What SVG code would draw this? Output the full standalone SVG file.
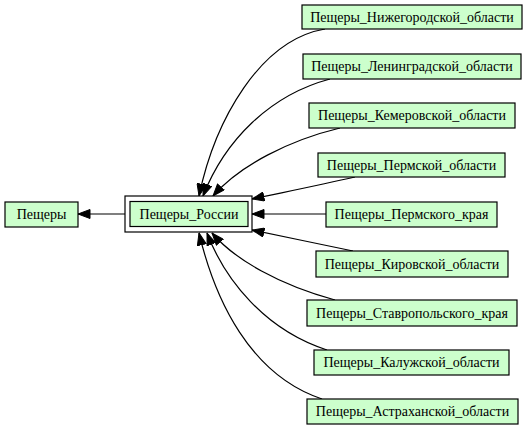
<svg xmlns="http://www.w3.org/2000/svg" width="528" height="429" viewBox="0 0 528 429">
<style>
.box{fill:#ccffcc;stroke:#000;stroke-width:1.2}
.lbl{font-family:"Liberation Serif","Times New Roman",serif;font-size:14px;fill:#000;text-anchor:middle}
.e{fill:none;stroke:#000;stroke-width:1.2;marker-end:url(#ah)}
</style>
<defs>
<marker id="ah" markerWidth="13" markerHeight="10" refX="12.5" refY="5" orient="auto" markerUnits="userSpaceOnUse">
<polygon points="0.5,0.5 12.5,5 0.5,9.5" fill="#000" stroke="#000" stroke-width="1"/>
</marker>
</defs>
<rect width="528" height="429" fill="#fff"/>
<g id="edges">
<path class="e" d="M125,214 L78,214"/>
<path class="e" d="M325,29 C260,40 215,120 199,196"/>
<path class="e" d="M330,79 C270,95 225,140 203,196"/>
<path class="e" d="M340,128 C290,140 240,165 213,196"/>
<path class="e" d="M355,177 C320,185 285,192 252,199"/>
<path class="e" d="M326,214 L252,214"/>
<path class="e" d="M353,251 C320,244 285,237 252,230"/>
<path class="e" d="M335,300 C280,285 235,260 212,233"/>
<path class="e" d="M327,350 C265,330 225,280 207,233"/>
<path class="e" d="M322,399 C250,375 215,300 199,233"/>
</g>
<g id="n_peshchery"><rect class="box" x="5" y="202" width="73" height="25"/><text class="lbl" x="41.5" y="219">Пещеры</text></g>
<g id="n_rossii"><rect x="125" y="196" width="127" height="36" fill="#fff" stroke="#000" stroke-width="1.2"/><rect class="box" x="130" y="201.5" width="118" height="25"/><text class="lbl" x="189" y="219">Пещеры_России</text></g>
<g id="n1"><rect class="box" x="302" y="5" width="220" height="24"/><text class="lbl" x="412" y="22">Пещеры_Нижегородской_области</text></g>
<g id="n2"><rect class="box" x="303" y="54" width="218" height="25"/><text class="lbl" x="412" y="71">Пещеры_Ленинградской_области</text></g>
<g id="n3"><rect class="box" x="309" y="103" width="206" height="25"/><text class="lbl" x="412" y="120">Пещеры_Кемеровской_области</text></g>
<g id="n4"><rect class="box" x="318" y="153" width="187" height="24"/><text class="lbl" x="411.5" y="170">Пещеры_Пермской_области</text></g>
<g id="n5"><rect class="box" x="326" y="202" width="171" height="25"/><text class="lbl" x="411.5" y="219">Пещеры_Пермского_края</text></g>
<g id="n6"><rect class="box" x="316" y="251" width="192" height="26"/><text class="lbl" x="412" y="269">Пещеры_Кировской_области</text></g>
<g id="n7"><rect class="box" x="307" y="300" width="210" height="26"/><text class="lbl" x="412" y="318">Пещеры_Ставропольского_края</text></g>
<g id="n8"><rect class="box" x="314" y="350" width="195" height="25"/><text class="lbl" x="411.5" y="367">Пещеры_Калужской_области</text></g>
<g id="n9"><rect class="box" x="307" y="399" width="211" height="25"/><text class="lbl" x="412.5" y="416">Пещеры_Астраханской_области</text></g>
</svg>
